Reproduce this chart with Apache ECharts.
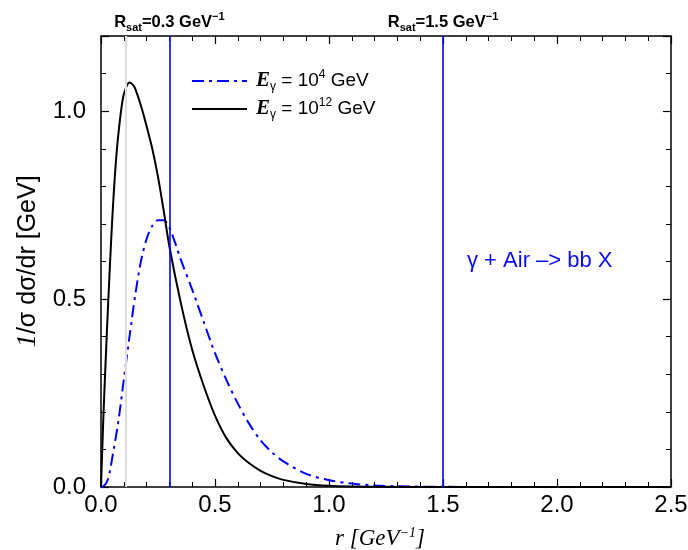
<!DOCTYPE html>
<html><head><meta charset="utf-8">
<script src="https://cdn.jsdelivr.net/npm/echarts@6/dist/echarts.min.js"></script>
<style>html,body{margin:0;padding:0;background:#fff}#c{width:688px;height:550px}</style>
</head><body><div id="c"></div>
<script>
// r values [GeV^-1] and normalized distributions
const rBlack = [0, 0.01, 0.02, 0.03, 0.04, 0.05, 0.06, 0.07, 0.08, 0.09, 0.1, 0.115, 0.125, 0.14, 0.15, 0.175, 0.2, 0.225, 0.25, 0.275, 0.3, 0.35, 0.4, 0.45, 0.5, 0.55, 0.6, 0.65, 0.7, 0.75, 0.8, 0.9, 1.0, 1.1, 1.2, 1.5, 2.0, 2.5];
const highE = [0, 0.18, 0.33, 0.47, 0.6, 0.72, 0.82, 0.9, 0.96, 1.01, 1.045, 1.07, 1.076, 1.07, 1.06, 1.015, 0.96, 0.9, 0.825, 0.735, 0.64, 0.49, 0.365, 0.27, 0.19, 0.13, 0.09, 0.063, 0.043, 0.029, 0.019, 0.008, 0.003, 0.001, 0.0005, 0, 0, 0];
const rBlue = [0, 0.01, 0.02, 0.03, 0.04, 0.05, 0.075, 0.1, 0.125, 0.15, 0.175, 0.2, 0.225, 0.25, 0.275, 0.3, 0.325, 0.35, 0.4, 0.45, 0.5, 0.55, 0.6, 0.65, 0.7, 0.75, 0.8, 0.9, 1.0, 1.1, 1.2, 1.3, 1.5, 2.0, 2.5];
const lowE = [0, 0.002, 0.008, 0.02, 0.045, 0.08, 0.17, 0.285, 0.4, 0.51, 0.6, 0.66, 0.695, 0.71, 0.71, 0.69, 0.65, 0.605, 0.525, 0.44, 0.356, 0.285, 0.222, 0.168, 0.124, 0.092, 0.068, 0.035, 0.018, 0.009, 0.004, 0.002, 0.0005, 0, 0];
const rSatLines = [0.3, 1.5];
const grayLine = 0.11;
const yTicks = [0, 0.5, 1.0];

const chart = echarts.init(document.getElementById('c'));
const sans = 'Liberation Sans, Arial, sans-serif';
const serif = 'Liberation Serif, Times New Roman, serif';
const pairs = (xs, ys) => xs.map((x, i) => [x, ys[i]]);

const axisCommon = {
  axisLine: {show: true, onZero: false, lineStyle: {color: '#000', width: 1.5}},
  axisTick: {show: true, inside: true, length: 8, lineStyle: {color: '#000', width: 1.2}},
  minorTick: {show: true, splitNumber: 5, length: 5, lineStyle: {color: '#000', width: 1}},
  splitLine: {show: false}
};

const headerRich = {
  b: {fontFamily: sans, fontWeight: 'bold', fontSize: 16.5, color: '#000', lineHeight: 22},
  s: {fontFamily: sans, fontWeight: 'bold', fontSize: 11, color: '#000', verticalAlign: 'bottom', lineHeight: 22},
  p: {fontFamily: sans, fontWeight: 'bold', fontSize: 11, color: '#000', verticalAlign: 'top', lineHeight: 22}
};

chart.setOption({
  animation: false,
  grid: {left: 101, right: 17, top: 36, bottom: 63, containLabel: false, outerBoundsMode: 'none'},
  legend: {
    left: 186, top: 64, orient: 'vertical', itemWidth: 55, itemHeight: 14, itemGap: 4,
    itemStyle: {opacity: 0},
    data: ['E4', 'E12'],
    formatter: n => n === 'E4'
      ? '{e|E}{s|γ}{n| = 10}{p|4}{n| GeV}'
      : '{e|E}{s|γ}{n| = 10}{p|12}{n| GeV}',
    textStyle: {
      padding: [0, 0, 0, 4],
      rich: {
        e: {fontFamily: serif, fontWeight: 'bold', fontStyle: 'italic', fontSize: 21, color: '#000', lineHeight: 24},
        s: {fontFamily: sans, fontSize: 12, color: '#000', verticalAlign: 'bottom', lineHeight: 24},
        n: {fontFamily: sans, fontSize: 19, color: '#000', lineHeight: 24},
        p: {fontFamily: sans, fontSize: 12, color: '#000', verticalAlign: 'top', lineHeight: 24}
      }
    }
  },
  xAxis: [
    Object.assign({}, axisCommon, {
      type: 'value', min: 0, max: 2.5, interval: 0.5, position: 'bottom',
      axisLabel: {color: '#000', fontFamily: sans, fontSize: 24, margin: 6, formatter: v => v.toFixed(1)},
      name: '{i|r [GeV}{p|−1}{i|]}', nameLocation: 'middle', nameGap: 39,
      nameTextStyle: {padding: [0, 12, 0, 0], rich: {
        i: {fontFamily: serif, fontStyle: 'italic', fontSize: 23, color: '#000', lineHeight: 26},
        p: {fontFamily: serif, fontStyle: 'italic', fontSize: 14, color: '#000', verticalAlign: 'top', lineHeight: 26}
      }}
    }),
    Object.assign({}, axisCommon, {
      type: 'value', min: 0, max: 2.5, interval: 0.5, position: 'top',
      axisLabel: {show: false}
    })
  ],
  yAxis: [
    Object.assign({}, axisCommon, {
      type: 'value', min: 0, max: 1.2, interval: 0.5, position: 'left',
      axisLabel: {color: '#000', fontFamily: sans, fontSize: 24, margin: 15,
        formatter: v => yTicks.some(t => Math.abs(t - v) < 1e-9) ? v.toFixed(1) : ''},
      name: '{i|1}{n|/σ dσ/dr [GeV]}', nameLocation: 'middle', nameGap: 57, nameRotate: 90,
      nameTextStyle: {rich: {
        i: {fontFamily: serif, fontStyle: 'italic', fontSize: 27, color: '#000'},
        n: {fontFamily: sans, fontSize: 25, color: '#000'}
      }}
    }),
    Object.assign({}, axisCommon, {
      type: 'value', min: 0, max: 1.2, interval: 0.5, position: 'right',
      axisLabel: {show: false}
    })
  ],
  graphic: [{
    type: 'text', left: 467, top: 250,
    style: {text: 'γ + Air –> bb X', fill: '#0a0af5', font: '22px Liberation Sans, Arial, sans-serif'}
  }],
  series: [
    {
      name: 'E4', type: 'line', data: pairs(rBlue, lowE), showSymbol: false, symbol: 'none', smooth: 0.3,
      lineStyle: {color: '#0000ff', width: 2, type: [12, 5, 3, 5]}, itemStyle: {color: '#0000ff'},
      z: 3,
      markLine: {
        silent: true, symbol: 'none',
        data: [
          {xAxis: grayLine, lineStyle: {color: '#dedede', width: 2.2, type: 'solid'}, label: {show: false}},
          {xAxis: rSatLines[0], lineStyle: {color: '#0000ff', width: 1.6, type: 'solid'},
           label: {show: true, position: 'end', distance: 3, formatter: '{b|R}{s|sat}{b|=0.3 GeV}{p|−1}', rich: headerRich}},
          {xAxis: rSatLines[1], lineStyle: {color: '#0000ff', width: 1.6, type: 'solid'},
           label: {show: true, position: 'end', distance: 3, formatter: '{b|R}{s|sat}{b|=1.5 GeV}{p|−1}', rich: headerRich}}
        ]
      }
    },
    {
      name: 'E12', type: 'line', data: pairs(rBlack, highE), showSymbol: false, symbol: 'none', smooth: 0.3,
      lineStyle: {color: '#000', width: 2, type: 'solid'}, itemStyle: {color: '#000'}, z: 4
    }
  ]
});
</script></body></html>
